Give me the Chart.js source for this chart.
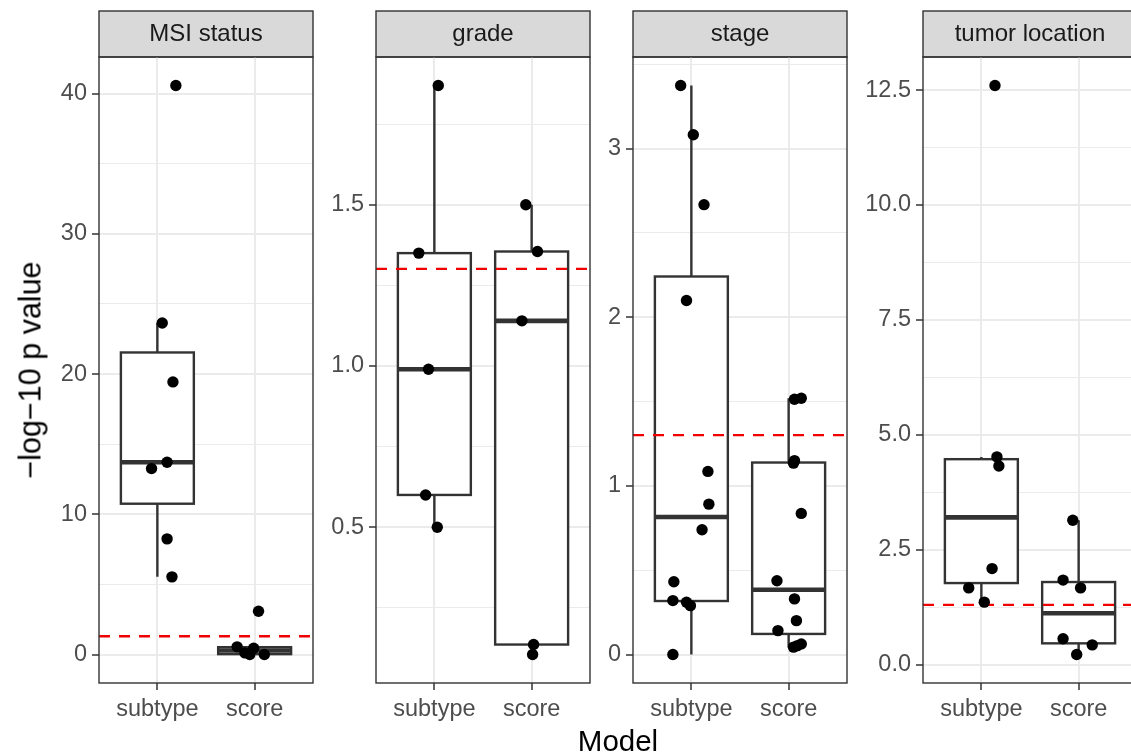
<!DOCTYPE html>
<html>
<head>
<meta charset="utf-8">
<script src="https://cdn.jsdelivr.net/npm/chart.js@4.4.1/dist/chart.umd.min.js"></script>
<style>
  body { margin: 0; background: #fff; }
  #wrap { position: relative; width: 1131px; height: 754px; overflow: hidden; font-family: 'Liberation Sans', Arial, sans-serif; }
  #wrap canvas { position: absolute; top: 0; }
  #xTitle { position: absolute; left: 618px; top: 741px; transform: translate(-50%, -50%); font-size: 29.5px; color: #000; white-space: nowrap; }
  #yTitle { position: absolute; left: 30px; top: 370px; transform: translate(-50%, -50%) rotate(-90deg); font-size: 30.5px; color: #000; white-space: nowrap; }
</style>
</head>
<body>
<div id="wrap">
  <canvas id="p0" width="312" height="754"></canvas>
  <canvas id="p1" width="312" height="754"></canvas>
  <canvas id="p2" width="312" height="754"></canvas>
  <canvas id="p3" width="312" height="754"></canvas>
  <div id="xTitle">Model</div>
  <div id="yTitle">−log−10 p value</div>
</div>
<script>
const categories = ['subtype', 'score'];
const facets = ['MSI status', 'grade', 'stage', 'tumor location'];
const threshold = 1.301; // -log10(0.05)

// -log10 p values, one point per test
const msiSubtype = [40.58, 23.64, 19.44, 13.71, 13.26, 8.25, 5.54];
const msiScore = [3.09, 0.55, 0.45, 0.12, 0.0, 0.0];
const gradeSubtype = [1.87, 1.35, 0.99, 0.60, 0.50];
const gradeScore = [1.50, 1.355, 1.14, 0.136, 0.105];
const stageSubtype = [3.375, 3.083, 2.668, 2.10, 1.086, 0.892, 0.74, 0.432, 0.32, 0.31, 0.29, 0.0];
const stageScore = [1.52, 1.514, 1.15, 1.135, 0.837, 0.438, 0.33, 0.201, 0.142, 0.063, 0.053, 0.044];
const tumorSubtype = [12.6, 4.52, 4.32, 2.09, 1.67, 1.36];
const tumorScore = [3.14, 1.84, 1.67, 0.565, 0.43, 0.22];

// horizontal jitter of each point (category units)
const msiSubtypeJit = [0.19, 0.05, 0.16, 0.10, -0.06, 0.10, 0.15];
const msiScoreJit = [0.04, -0.18, -0.01, -0.10, -0.05, 0.10];
const gradeSubtypeJit = [0.04, -0.16, -0.06, -0.09, 0.03];
const gradeScoreJit = [-0.06, 0.06, -0.10, 0.02, 0.01];
const stageSubtypeJit = [-0.11, 0.02, 0.13, -0.05, 0.17, 0.18, 0.11, -0.18, -0.19, -0.05, -0.01, -0.19];
const stageScoreJit = [0.13, 0.06, 0.06, 0.05, 0.13, -0.12, 0.06, 0.08, -0.11, 0.13, 0.09, 0.05];
const tumorSubtypeJit = [0.14, 0.16, 0.18, 0.11, -0.13, 0.03];
const tumorScoreJit = [-0.06, -0.16, 0.02, -0.16, 0.14, -0.02];

// y breaks and their labels
const msiTicks = [0, 10, 20, 30, 40];
const msiTickLabels = ['0', '10', '20', '30', '40'];
const gradeTicks = [0.5, 1.0, 1.5];
const gradeTickLabels = ['0.5', '1.0', '1.5'];
const stageTicks = [0, 1, 2, 3];
const stageTickLabels = ['0', '1', '2', '3'];
const tumorTicks = [0, 2.5, 5, 7.5, 10, 12.5];
const tumorTickLabels = ['0.0', '2.5', '5.0', '7.5', '10.0', '12.5'];

const panels = [
  { id: 'p0', left: 99, title: facets[0], groups: [msiSubtype, msiScore], jit: [msiSubtypeJit, msiScoreJit], ticks: msiTicks, labels: msiTickLabels },
  { id: 'p1', left: 376, title: facets[1], groups: [gradeSubtype, gradeScore], jit: [gradeSubtypeJit, gradeScoreJit], ticks: gradeTicks, labels: gradeTickLabels },
  { id: 'p2', left: 633, title: facets[2], groups: [stageSubtype, stageScore], jit: [stageSubtypeJit, stageScoreJit], ticks: stageTicks, labels: stageTickLabels },
  { id: 'p3', left: 923, title: facets[3], groups: [tumorSubtype, tumorScore], jit: [tumorSubtypeJit, tumorScoreJit], ticks: tumorTicks, labels: tumorTickLabels }
];

const FONT = "'Liberation Sans', Arial, sans-serif";
const AXIS_W = 90;
const PANEL_W = 214;

// ggplot style quantile (type 7)
function quantile(s, p) {
  const h = (s.length - 1) * p;
  const lo = Math.floor(h);
  const next = lo + 1 < s.length ? s[lo + 1] : s[lo];
  return s[lo] + (h - lo) * (next - s[lo]);
}

function boxStats(vals) {
  const s = [...vals].sort((a, b) => a - b);
  const q1 = quantile(s, 0.25), med = quantile(s, 0.5), q3 = quantile(s, 0.75);
  const iqr = q3 - q1;
  const inside = s.filter(v => v >= q1 - 1.5 * iqr && v <= q3 + 1.5 * iqr);
  return { q1, med, q3, lo: inside[0], hi: inside[inside.length - 1] };
}

const boxPlugin = {
  id: 'boxes',
  beforeDraw(chart) {
    // facet strip behind the title text
    const ctx = chart.ctx, a = chart.chartArea, t = chart.titleBlock;
    ctx.save();
    ctx.fillStyle = '#d9d9d9';
    ctx.fillRect(a.left, t.top, a.right - a.left, t.height);
    ctx.strokeStyle = '#333333';
    ctx.lineWidth = 1.4;
    ctx.strokeRect(a.left, t.top, a.right - a.left, t.height);
    ctx.restore();
  },
  beforeDatasetsDraw(chart, args, opts) {
    const ctx = chart.ctx, x = chart.scales.x, y = chart.scales.y, a = chart.chartArea;
    ctx.save();
    ctx.beginPath();
    ctx.rect(a.left, a.top, a.right - a.left, a.bottom - a.top);
    ctx.clip();
    opts.groups.forEach((vals, i) => {
      const st = boxStats(vals);
      const c = i + 1;
      const xl = x.getPixelForValue(c - 0.375), xr = x.getPixelForValue(c + 0.375), xc = x.getPixelForValue(c);
      ctx.strokeStyle = '#333333';
      ctx.lineWidth = 2.4;
      // whiskers
      ctx.beginPath();
      ctx.moveTo(xc, y.getPixelForValue(st.q3));
      ctx.lineTo(xc, y.getPixelForValue(st.hi));
      ctx.moveTo(xc, y.getPixelForValue(st.q1));
      ctx.lineTo(xc, y.getPixelForValue(st.lo));
      ctx.stroke();
      // box
      const top = y.getPixelForValue(st.q3), bot = y.getPixelForValue(st.q1);
      ctx.fillStyle = '#ffffff';
      ctx.fillRect(xl, top, xr - xl, bot - top);
      ctx.strokeRect(xl, top, xr - xl, bot - top);
      // median
      ctx.lineWidth = 4.6;
      ctx.beginPath();
      ctx.moveTo(xl, y.getPixelForValue(st.med));
      ctx.lineTo(xr, y.getPixelForValue(st.med));
      ctx.stroke();
    });
    // significance line
    const yl = y.getPixelForValue(opts.threshold);
    ctx.strokeStyle = '#f00000';
    ctx.lineWidth = 2.4;
    ctx.setLineDash([11, 9]);
    ctx.beginPath();
    ctx.moveTo(a.left, yl);
    ctx.lineTo(a.right, yl);
    ctx.stroke();
    ctx.restore();
  },
  afterDatasetsDraw(chart) {
    const ctx = chart.ctx, a = chart.chartArea;
    ctx.save();
    ctx.strokeStyle = '#333333';
    ctx.lineWidth = 1.4;
    ctx.strokeRect(a.left, a.top, a.right - a.left, a.bottom - a.top);
    ctx.restore();
  }
};

panels.forEach(p => {
  const canvas = document.getElementById(p.id);
  canvas.style.left = (p.left - AXIS_W) + 'px';

  const all = p.groups.flat();
  const dmin = Math.min(...all), dmax = Math.max(...all);
  const pad = (dmax - dmin) * 0.05;
  const ymin = dmin - pad, ymax = dmax + pad;

  // minor breaks halfway between the major ones
  const step = p.ticks[1] - p.ticks[0];
  const minors = [];
  for (let v = p.ticks[0] - step / 2; v <= p.ticks[p.ticks.length - 1] + step; v += step) {
    if (v >= ymin && v <= ymax) minors.push(v);
  }
  const allTicks = [...p.ticks, ...minors].sort((a, b) => a - b);
  const isMajor = v => p.ticks.indexOf(v) >= 0;

  const datasets = p.groups.map((vals, i) => ({
    label: categories[i],
    data: vals.map((v, j) => ({ x: i + 1 + p.jit[i][j], y: v })),
    pointRadius: 5.7,
    pointHoverRadius: 5.7,
    backgroundColor: '#000000',
    borderWidth: 0
  }));

  new Chart(canvas, {
    type: 'scatter',
    data: { datasets },
    plugins: [boxPlugin],
    options: {
      responsive: false,
      animation: false,
      events: [],
      layout: { padding: { top: 11, left: 0, right: 312 - AXIS_W - PANEL_W, bottom: 0 } },
      plugins: {
        legend: { display: false },
        tooltip: { enabled: false },
        title: {
          display: true,
          text: p.title,
          fullSize: false,
          color: '#1a1a1a',
          font: { family: FONT, size: 24, weight: 'normal', lineHeight: '28px' },
          padding: { top: 9, bottom: 9 }
        },
        boxes: { groups: p.groups, threshold: threshold }
      },
      scales: {
        x: {
          type: 'linear',
          min: 0.4,
          max: 2.6,
          afterBuildTicks: s => { s.ticks = [{ value: 1 }, { value: 2 }]; },
          afterFit: s => { s.height = 71; },
          ticks: {
            autoSkip: false,
            maxRotation: 0,
            padding: 5,
            color: '#4d4d4d',
            font: { family: FONT, size: 23.5 },
            callback: v => categories[v - 1]
          },
          grid: { color: '#ebebeb', lineWidth: 2, tickColor: '#333333', tickLength: 7, tickWidth: 1.5 },
          border: { display: false }
        },
        y: {
          min: ymin,
          max: ymax,
          afterBuildTicks: s => { s.ticks = allTicks.map(v => ({ value: v })); },
          afterFit: s => { s.width = AXIS_W; },
          ticks: {
            autoSkip: false,
            padding: 5,
            color: '#4d4d4d',
            font: { family: FONT, size: 23.5 },
            callback: v => isMajor(v) ? p.labels[p.ticks.indexOf(v)] : ''
          },
          grid: {
            color: '#ebebeb',
            lineWidth: c => isMajor(c.tick.value) ? 2 : 1,
            tickColor: c => isMajor(c.tick.value) ? '#333333' : 'rgba(0,0,0,0)',
            tickLength: 7,
            tickWidth: 1.5
          },
          border: { display: false }
        }
      }
    }
  });
});
</script>
</body>
</html>
